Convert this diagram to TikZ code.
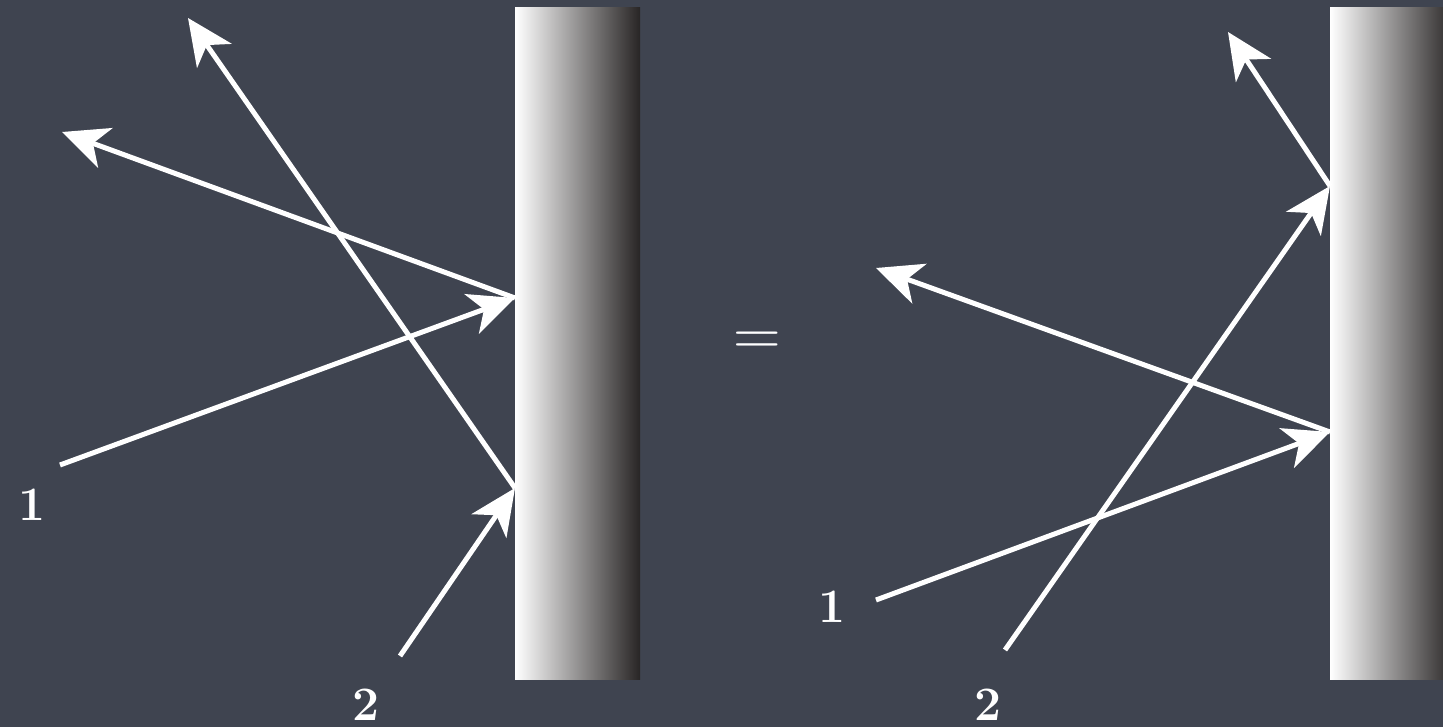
\documentclass[tikz,border=0pt]{standalone}
\usetikzlibrary{arrows.meta}
\definecolor{bg}{RGB}{63,68,80}
\definecolor{mirdark}{RGB}{40,37,37}
\begin{document}
\begin{tikzpicture}[x=1pt,y=-1pt,
  ray/.style={white,line width=5pt,-{Stealth[length=46pt,width=42pt,inset=13pt]}},
  mirror/.style={left color=white,right color=mirdark,shading=axis,draw=none},
  lbl/.style={text=white,font=\fontsize{48}{52}\selectfont\bfseries,inner sep=0pt}]
\fill[bg] (0,0) rectangle (1443,727);
\useasboundingbox (0,0) rectangle (1443,727);
\begin{scope}
\clip (0,0) rectangle (1443,727);
\shade[mirror] (515,8) rectangle (640,679);
\shade[mirror] (1330,8) rectangle (1455,679);
\end{scope}
% left diagram
\coordinate (Ls1) at (60,465);
\coordinate (Lm1) at (515,298);
\coordinate (Le1) at (62,132);
\coordinate (Ls2) at (400,656);
\coordinate (Lm2) at (515,488);
\coordinate (Le2) at (188,18);
\draw[ray] (Ls1) -- (Lm1);
\draw[ray] (Lm1) -- (Le1);
\draw[ray] (Ls2) -- (Lm2);
\draw[ray] (Lm2) -- (Le2);
\node[lbl] (L1) at (32,505) {1};
\node[lbl] (L2) at (366,705) {2};
% equals
\node[text=white,font=\fontsize{66}{70}\selectfont,inner sep=0pt] (eq) at (757,344) {=};
% right diagram
\coordinate (Rs1) at (876,600);
\coordinate (Rm1) at (1330,432);
\coordinate (Re1) at (876,268);
\coordinate (Rs2) at (1005,650);
\coordinate (Rm2) at (1330,186);
\coordinate (Re2) at (1228,32);
\draw[ray] (Rs1) -- (Rm1);
\draw[ray] (Rm1) -- (Re1);
\draw[ray] (Rs2) -- (Rm2);
\draw[ray] (Rm2) -- (Re2);
\node[lbl] (R1) at (832,607) {1};
\node[lbl] (R2) at (988,705) {2};
\end{tikzpicture}
\end{document}
